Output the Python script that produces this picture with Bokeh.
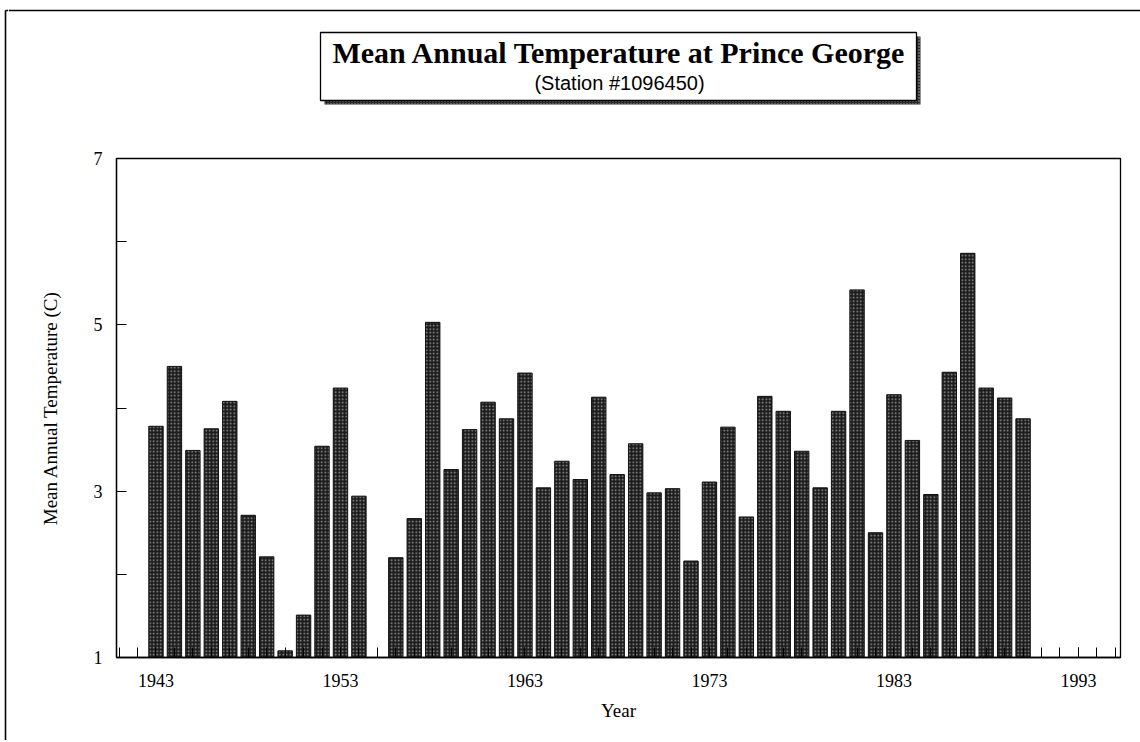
from bokeh.plotting import figure
from bokeh.models import FixedTicker, Range1d
from bokeh.layouts import row, column
from bokeh.core.properties import value
from bokeh.embed import file_html
from bokeh.resources import INLINE

# ---- data ----
years = [1943, 1944, 1945, 1946, 1947, 1948, 1949, 1950, 1951, 1952, 1953, 1954,
         1956, 1957, 1958, 1959, 1960, 1961, 1962, 1963, 1964, 1965, 1966, 1967,
         1968, 1969, 1970, 1971, 1972, 1973, 1974, 1975, 1976, 1977, 1978, 1979,
         1980, 1981, 1982, 1983, 1984, 1985, 1986, 1987, 1988, 1989, 1990]
temps = [3.78, 4.50, 3.49, 3.75, 4.08, 2.71, 2.21, 1.08, 1.51, 3.54, 4.24, 2.94,
         2.20, 2.67, 5.03, 3.26, 3.74, 4.07, 3.87, 4.42, 3.04, 3.36, 3.14, 4.13,
         3.20, 3.57, 2.98, 3.03, 2.16, 3.11, 3.77, 2.69, 4.14, 3.96, 3.48, 3.04,
         3.96, 5.42, 2.50, 4.16, 3.61, 2.96, 4.43, 5.86, 4.24, 4.12, 3.87]
x_major = [1943, 1953, 1963, 1973, 1983, 1993]
x_minor = list(range(1941, 1996))
y_major = [1, 3, 5, 7]
y_minor = [2, 4, 6]
title_text = "Mean Annual Temperature at Prince George"
subtitle_text = "(Station #1096450)"

TOTAL_W, TOTAL_H = 1140, 740
STRIP_W = 8
TOP_H = 138
MAIN_W = TOTAL_W - STRIP_W
MAIN_H = TOTAL_H - TOP_H


def bare(w, h, xr, yr):
    f = figure(width=w, height=h, output_backend="svg", toolbar_location=None,
               x_range=xr, y_range=yr,
               min_border_left=0, min_border_right=0, min_border_top=0,
               min_border_bottom=0)
    f.axis.visible = False
    f.grid.visible = False
    f.outline_line_color = None
    f.background_fill_color = "white"
    f.border_fill_color = "white"
    return f


# ---- left strip holding the page border line ----
strip = bare(STRIP_W, TOTAL_H, Range1d(0, STRIP_W), Range1d(TOTAL_H, 0))
strip.segment(x0=[5, 5], y0=[10, 10], x1=[5, STRIP_W], y1=[TOTAL_H, 10],
              line_color="black", line_width=1.6)

# ---- top area with title box (coordinates are page pixels) ----
top = bare(MAIN_W, TOP_H, Range1d(STRIP_W, TOTAL_W), Range1d(TOP_H, 0))
top.segment(x0=[STRIP_W], y0=[10], x1=[TOTAL_W], y1=[10],
            line_color="black", line_width=1.6)
top.quad(left=[324], right=[920], top=[36], bottom=[104],
         fill_color="#2a2a2a", line_color=None,
         hatch_pattern=".", hatch_color="#aaaaaa", hatch_scale=3)
top.quad(left=[320], right=[916], top=[32], bottom=[100],
         fill_color="white", line_color="black", line_width=1.3)
top.text(x=[619], y=[52], text=[title_text], text_align="center",
         text_baseline="alphabetic", text_font=value("Liberation Serif"),
         text_font_style="bold", text_font_size="30px", text_color="black")
top.text(x=[619], y=[82], text=[subtitle_text], text_align="center",
         text_baseline="alphabetic", text_font=value("Liberation Sans"),
         text_font_size="20px", text_color="black")

# ---- main chart ----
p = figure(width=MAIN_W, height=MAIN_H, output_backend="svg", toolbar_location=None,
           x_range=Range1d(1940.86, 1995.28), y_range=Range1d(1, 7),
           min_border_left=108, min_border_right=20, min_border_top=20,
           min_border_bottom=83)
p.frame_width = 1004
p.frame_height = 499

p.vbar(x=years, top=temps, bottom=1, width=0.78, fill_color="#1c1c1c",
       line_color="#111111", line_width=1,
       hatch_pattern=".", hatch_color="#9a9a9a", hatch_scale=3.5, hatch_weight=1)

p.grid.visible = False
p.outline_line_color = "black"
p.outline_line_width = 1.3
p.background_fill_color = "white"
p.border_fill_color = "white"

for ax in (p.xaxis[0], p.yaxis[0]):
    ax.major_tick_in = 10
    ax.major_tick_out = 0
    ax.minor_tick_in = 10
    ax.minor_tick_out = 0
    ax.axis_line_color = "black"
    ax.axis_line_width = 1.3
    ax.major_tick_line_color = "black"
    ax.minor_tick_line_color = "black"
    ax.major_label_text_font = "Liberation Serif"
    ax.major_label_text_font_size = "18px"
    ax.major_label_text_color = "black"
    ax.axis_label_text_font = "Liberation Serif"
    ax.axis_label_text_font_size = "19px"
    ax.axis_label_text_font_style = "normal"
    ax.axis_label_text_color = "black"

p.xaxis.ticker = FixedTicker(ticks=x_major, minor_ticks=x_minor)
p.yaxis.ticker = FixedTicker(ticks=y_major, minor_ticks=y_minor)
p.xaxis.axis_label = "Year"
p.yaxis.axis_label = "Mean Annual Temperature (C)"
p.xaxis.major_label_standoff = 16
p.yaxis.major_label_standoff = 14
p.xaxis.axis_label_standoff = 10
p.yaxis.axis_label_standoff = 30

layout = row(strip, column(row(top), row(p), spacing=0), spacing=0)

open("out.html", "w").write(file_html(layout, INLINE))
